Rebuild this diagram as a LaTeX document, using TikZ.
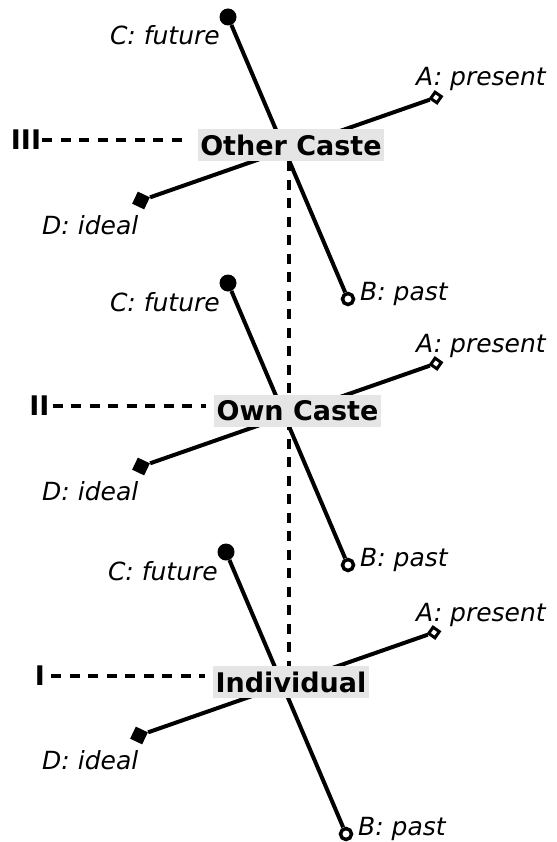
\documentclass[tikz,border=0pt]{standalone}
\usepackage{fontspec}
\setmainfont{DejaVu Sans}
\usetikzlibrary{shapes.geometric}
\pgfdeclarelayer{bg}
\pgfsetlayers{bg,main}
\tikzset{
 axisline/.style={line width=4pt},
 dashline/.style={line width=4pt, dash pattern=on 10pt off 8.5pt},
 futuredot/.style={circle, fill=black, inner sep=0pt, minimum size=17pt},
 pastdot/.style={circle, draw=black, line width=3.5pt, fill=white, inner sep=0pt, minimum size=11pt},
 presentmark/.style={diamond, draw=black, line width=3pt, fill=white, inner sep=0pt, minimum size=12pt, rotate=10},
 idealmark/.style={diamond, fill=black, inner sep=0pt, minimum size=19pt, rotate=19.5},
 lab/.style={font=\itshape\fontsize{25}{30}\selectfont, inner sep=0pt},
 levelbox/.style={font=\bfseries\fontsize{27}{30}\selectfont, fill=black!10, inner xsep=2.5pt, inner ysep=0pt, minimum height=32pt},
 roman/.style={font=\bfseries\fontsize{27}{30}\selectfont, inner sep=0pt},
}
\begin{document}
\begin{tikzpicture}[x=1pt,y=-1pt]
\useasboundingbox (0,0) rectangle (556,842);
% group III
\begin{scope}
\node[futuredot] (c3) at (228,17) {};
\node[pastdot] (b3) at (348,299) {};
\node[presentmark] (a3) at (436,97.5) {};
\node[idealmark] (d3) at (141,200.5) {};
\node[lab, anchor=base east] (lc3) at (220,45) {C: future};
\node[lab, anchor=base west] (la3) at (416,86) {A: present};
\node[lab, anchor=base west] (ld3) at (42,234) {D: ideal};
\node[lab, anchor=base west] (lb3) at (360,300) {B: past};
\node[levelbox] (lv3) at (291,145) {Other Caste};
\node[roman] (r3) at (26,140) {III};
\end{scope}
% group II
\begin{scope}[shift={(0,266)}]
\node[futuredot] (c2) at (228,17) {};
\node[pastdot] (b2) at (348,299) {};
\node[presentmark] (a2) at (436,97.5) {};
\node[idealmark] (d2) at (141,200.5) {};
\node[lab, anchor=base east] (lc2) at (220,45) {C: future};
\node[lab, anchor=base west] (la2) at (416,86) {A: present};
\node[lab, anchor=base west] (ld2) at (42,234) {D: ideal};
\node[lab, anchor=base west] (lb2) at (360,300) {B: past};
\node[levelbox] (lv2) at (297.5,144.5) {Own Caste};
\node[roman] (r2) at (39.5,139.5) {II};
\end{scope}
% group I
\begin{scope}[shift={(-2,535)}]
\node[futuredot] (c1) at (228,17) {};
\node[pastdot] (b1) at (348,299) {};
\node[presentmark] (a1) at (436,97.5) {};
\node[idealmark] (d1) at (141,200.5) {};
\node[lab, anchor=base east] (lc1) at (220,45) {C: future};
\node[lab, anchor=base west] (la1) at (418,86) {A: present};
\node[lab, anchor=base west] (ld1) at (44,234) {D: ideal};
\node[lab, anchor=base west] (lb1) at (360,300) {B: past};
\node[levelbox] (lv1) at (293,147) {Individual};
\node[roman] (r1) at (42,141) {I};
\end{scope}
\begin{pgfonlayer}{bg}
\draw[axisline] (c3) -- (b3);
\draw[axisline] (a3) -- (d3);
\draw[axisline] (c2) -- (b2);
\draw[axisline] (a2) -- (d2);
\draw[axisline] (c1) -- (b1);
\draw[axisline] (a1) -- (d1);
\draw[dashline] ([xshift=-2pt]lv3.south) -- ([xshift=-2pt]lv1.north);
\end{pgfonlayer}
\draw[dashline, shorten <=1pt, shorten >=8pt] (r3.east) -- (r3.east -| lv3.west);
\draw[dashline, shorten <=3pt, shorten >=8pt] (r2.east) -- (r2.east -| lv2.west);
\draw[dashline, shorten <=6pt, shorten >=8pt] (r1.east) -- (r1.east -| lv1.west);
\end{tikzpicture}
\end{document}
